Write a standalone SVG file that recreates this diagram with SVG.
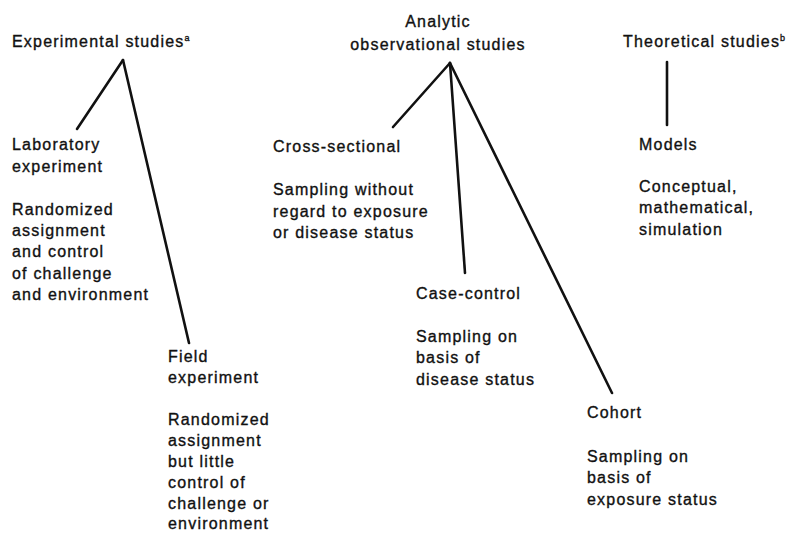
<svg xmlns="http://www.w3.org/2000/svg" width="787" height="533" viewBox="0 0 787 533">
  <style>
    text { font-family: "Liberation Sans", Arial, Helvetica, sans-serif; font-size: 16px; letter-spacing: 1.2px; fill: #111; stroke: #111; stroke-width: 0.35px; }
    .mid { text-anchor: middle; }
    .sup { font-size: 9px; letter-spacing: 0; }
    .link { stroke: #111; stroke-width: 2.6; stroke-linecap: round; fill: none; }
  </style>
  <rect width="787" height="533" fill="#fff"/>

  <!-- connectors -->
  <g id="connectors">
    <line class="link" x1="123" y1="60" x2="77" y2="129"/>
    <line class="link" x1="123" y1="60" x2="189" y2="343"/>
    <line class="link" x1="450" y1="63" x2="393" y2="127"/>
    <line class="link" x1="450" y1="63" x2="465" y2="273"/>
    <line class="link" x1="450" y1="63" x2="612" y2="393"/>
    <line class="link" x1="667" y1="62" x2="667" y2="125"/>
  </g>

  <!-- top-level categories -->
  <g id="experimental">
    <text x="12" y="47">Experimental studies<tspan class="sup" dy="-6">a</tspan></text>
  </g>
  <g id="analytic">
    <text class="mid" x="438" y="27">Analytic</text>
    <text class="mid" x="438" y="50">observational studies</text>
  </g>
  <g id="theoretical">
    <text x="623" y="47">Theoretical studies<tspan class="sup" dy="-6">b</tspan></text>
  </g>

  <!-- experimental branches -->
  <g id="laboratory">
    <text x="12" y="150">Laboratory</text>
    <text x="12" y="172">experiment</text>
    <text x="12" y="215">Randomized</text>
    <text x="12" y="236">assignment</text>
    <text x="12" y="257">and control</text>
    <text x="12" y="279">of challenge</text>
    <text x="12" y="300">and environment</text>
  </g>
  <g id="field">
    <text x="168" y="362">Field</text>
    <text x="168" y="383">experiment</text>
    <text x="168" y="425">Randomized</text>
    <text x="168" y="446">assignment</text>
    <text x="168" y="467">but little</text>
    <text x="168" y="488">control of</text>
    <text x="168" y="509">challenge or</text>
    <text x="168" y="529">environment</text>
  </g>

  <!-- observational branches -->
  <g id="cross-sectional">
    <text x="273" y="152">Cross-sectional</text>
    <text x="273" y="195">Sampling without</text>
    <text x="273" y="217">regard to exposure</text>
    <text x="273" y="238">or disease status</text>
  </g>
  <g id="case-control">
    <text x="416" y="299">Case-control</text>
    <text x="416" y="342">Sampling on</text>
    <text x="416" y="363">basis of</text>
    <text x="416" y="385">disease status</text>
  </g>
  <g id="cohort">
    <text x="587" y="418">Cohort</text>
    <text x="587" y="462">Sampling on</text>
    <text x="587" y="483">basis of</text>
    <text x="587" y="505">exposure status</text>
  </g>

  <!-- theoretical branch -->
  <g id="models">
    <text x="639" y="150">Models</text>
    <text x="639" y="192">Conceptual,</text>
    <text x="639" y="213">mathematical,</text>
    <text x="639" y="235">simulation</text>
  </g>
</svg>
